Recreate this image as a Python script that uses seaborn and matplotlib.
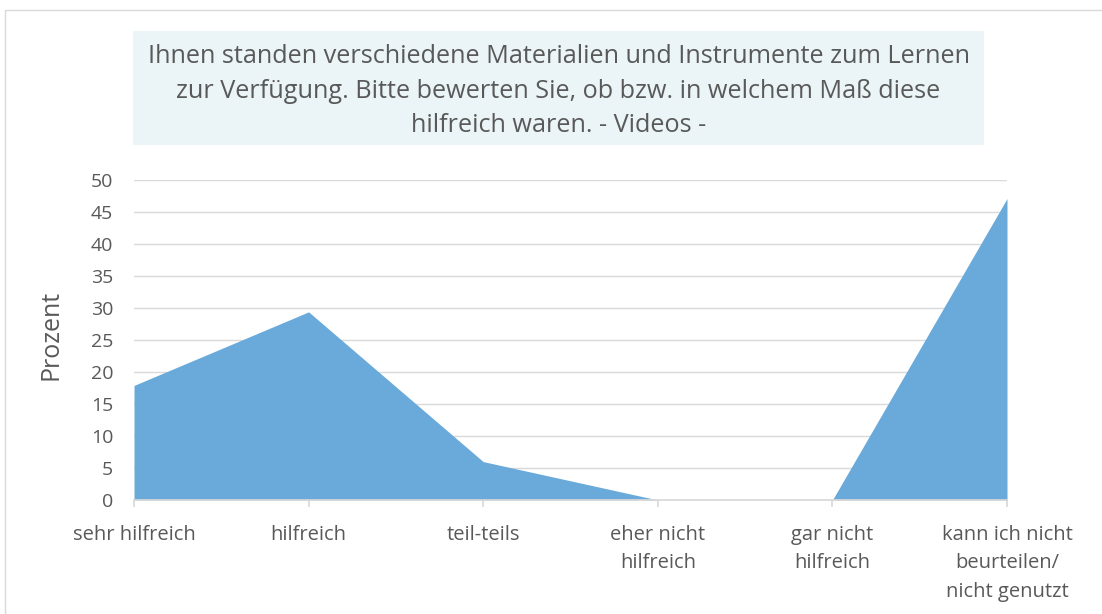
import matplotlib
matplotlib.use("Agg")
import matplotlib.pyplot as plt
import seaborn as sns
import pandas as pd
from matplotlib.patches import Rectangle

categories = ["sehr hilfreich", "hilfreich", "teil-teils", "eher nicht\nhilfreich",
              "gar nicht\nhilfreich", "kann ich nicht\nbeurteilen/\nnicht genutzt"]
values = [17.9, 29.4, 6.0, 0.0, 0.0, 47.1]
yticks = [0, 5, 10, 15, 20, 25, 30, 35, 40, 45, 50]
title = ("Ihnen standen verschiedene Materialien und Instrumente zum Lernen\n"
         "zur Verfügung. Bitte bewerten Sie, ob bzw. in welchem Maß diese\n"
         "hilfreich waren. - Videos -")

sns.set_theme(style="white")
plt.rcParams['font.family'] = ['Open Sans', 'DejaVu Sans']

TXT = "#595959"
FILL = "#6aaadb"
W, H = 1102, 614

df = pd.DataFrame({"pos": range(len(categories)), "Prozent": values})

fig = plt.figure(figsize=(W / 100, H / 100), dpi=100)
fig.patches.append(Rectangle((5 / W, -0.1), 1.2, 1.1 - 10 / H, transform=fig.transFigure,
                             fill=False, edgecolor="#d9d9d9", linewidth=1.0))
# title box
fig.patches.append(Rectangle((133 / W, 1 - 145 / H), (984 - 133) / W, (145 - 31) / H,
                             transform=fig.transFigure, facecolor="#ebf5f8",
                             edgecolor="none", zorder=0))

ax = fig.add_axes([134 / W, 1 - 500 / H, (1007 - 134) / W, (500 - 180) / H])

sns.lineplot(data=df, x="pos", y="Prozent", ax=ax, color=FILL, linewidth=0)
ax.fill_between(df["pos"], df["Prozent"], 0, color=FILL, linewidth=0)

ax.set_xlim(0, len(categories) - 1)
ax.set_ylim(0, 50)
ax.set_yticks(yticks)
ax.set_yticklabels([str(t) for t in yticks], fontsize=14, color=TXT)
ax.set_xticks(range(len(categories)))
ax.set_xticklabels(categories, fontsize=14.5, color=TXT, linespacing=1.55, va="top")
ax.grid(axis="y", color="#d9d9d9", linewidth=1.0)
ax.set_axisbelow(True)
for s in ["top", "right", "left"]:
    ax.spines[s].set_visible(False)
ax.spines["bottom"].set_color("#d9d9d9")
ax.tick_params(axis="x", length=5, color="#d9d9d9", pad=13, bottom=True)
ax.tick_params(axis="y", length=0, pad=15)
ax.set_xlabel("")
ax.set_ylabel("Prozent", fontsize=18, color=TXT)
ax.yaxis.set_label_coords((63 - 134) / (1007 - 134), (500 - 335) / (500 - 180))

fig.text((133 + 984) / 2 / W, 1 - 91 / H, title, ha="center", va="center",
         fontsize=18.2, color=TXT, linespacing=1.49)

fig.savefig("out.png", dpi=100)
